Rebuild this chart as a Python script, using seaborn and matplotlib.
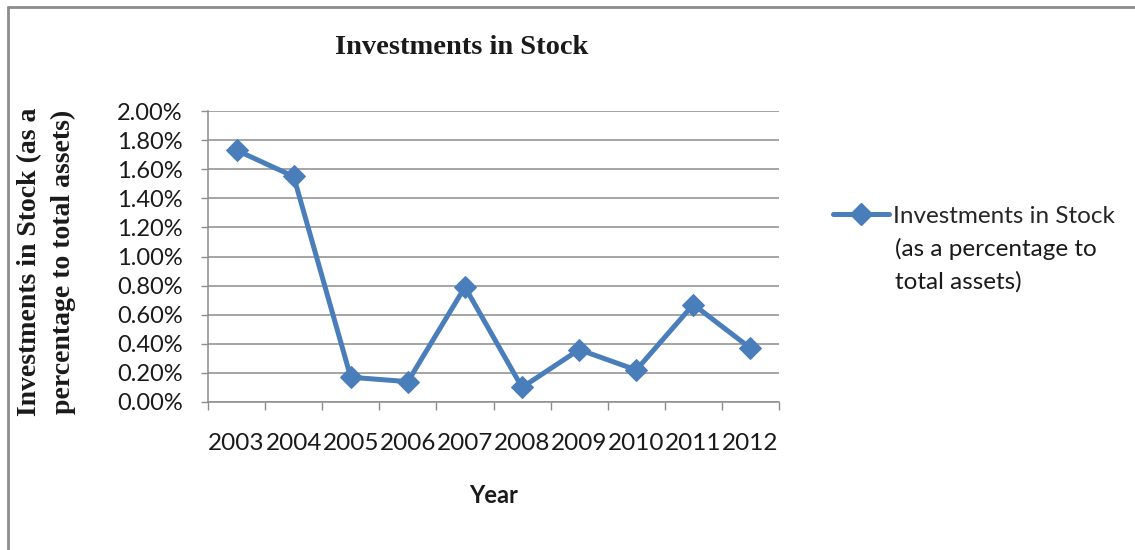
import numpy as np
import pandas as pd
import matplotlib
matplotlib.use("Agg")
import matplotlib.pyplot as plt
import seaborn as sns
from matplotlib.ticker import FuncFormatter, MultipleLocator, FixedLocator
from matplotlib.lines import Line2D

# Données
years = ["2003", "2004", "2005", "2006", "2007", "2008", "2009", "2010", "2011", "2012"]
stock_pct = [1.73, 1.55, 0.17, 0.14, 0.79, 0.10, 0.36, 0.22, 0.67, 0.37]
legend_lines = ["Investments in Stock", "(as a percentage to", "total assets)"]

df = pd.DataFrame({"Year": years, "Stock": stock_pct})

sns.set_theme(style="white")
plt.rcParams["font.family"] = ["Lato", "DejaVu Sans"]

blue = "#4A7EBB"
grey = "#8C8C8C"
txt = "#1a1a1a"

fig = plt.figure(figsize=(11.35, 5.5), dpi=100)
ax = fig.add_axes([208 / 1135, 1 - 402 / 550, 571 / 1135, 291 / 550])

sns.lineplot(data=df, x="Year", y="Stock", ax=ax, color=blue, linewidth=3.6,
             marker="D", markersize=11, markeredgecolor=blue, sort=False)

ax.set_ylim(0, 2.0)
ax.set_xlim(-0.5, len(years) - 0.5)
ax.yaxis.set_major_locator(MultipleLocator(0.2))
ax.yaxis.set_major_formatter(FuncFormatter(lambda v, p: f"{v:.2f}%"))
ax.grid(axis="y", color=grey, linewidth=1.1)
ax.grid(axis="x", visible=False)

# petits traits entre les catégories
ax.xaxis.set_minor_locator(FixedLocator(np.arange(-0.5, len(years), 1.0)))
ax.tick_params(axis="x", which="major", length=0, pad=22, labelsize=17.5, colors=txt)
ax.tick_params(axis="x", which="minor", length=6, width=1, color=grey, direction="out", bottom=True)
ax.tick_params(axis="y", which="major", length=5, width=1, color=grey, direction="out",
               left=True, labelsize=17, labelcolor=txt, pad=13)

for s in ["top", "right"]:
    ax.spines[s].set_visible(False)
for s in ["left", "bottom"]:
    ax.spines[s].set_color(grey)
    ax.spines[s].set_linewidth(1.1)

ax.set_xlabel("Year", fontsize=17, fontweight="bold", labelpad=22, color=txt)
ax.set_ylabel("")

fig.text(30 / 1135, 1 - 262 / 550, "Investments in Stock (as a", rotation=90,
         ha="center", va="center", fontsize=20, fontweight="bold",
         family="Liberation Serif", color=txt)
fig.text(63 / 1135, 1 - 262 / 550, "percentage to total assets)", rotation=90,
         ha="center", va="center", fontsize=20, fontweight="bold",
         family="Liberation Serif", color=txt)

fig.text(462 / 1135, 1 - 48 / 550, "Investments in Stock", ha="center", va="center",
         fontsize=20.5, fontweight="bold", family="Liberation Serif", color=txt)

# légende : symbole aligné sur la première ligne
handle = Line2D([], [], color=blue, linewidth=3.6, marker="D", markersize=11)
fig.legend([handle], [legend_lines[0]], loc="center left",
           bbox_to_anchor=(833 / 1135, 1 - 216 / 550), frameon=False,
           fontsize=17.5, handlelength=2.3, handletextpad=0.15, borderpad=0,
           borderaxespad=0)
for i, line in enumerate(legend_lines[1:], start=1):
    fig.text(895 / 1135, 1 - (216 + 33 * i) / 550, line, ha="left", va="center",
             fontsize=17.5, color=txt)

# cadre de la zone du graphique
fig.add_artist(Line2D([8 / 1135, 8 / 1135], [0, 1 - 7 / 550], transform=fig.transFigure,
                      color=grey, linewidth=2))
fig.add_artist(Line2D([8 / 1135, 1], [1 - 7 / 550, 1 - 7 / 550], transform=fig.transFigure,
                      color=grey, linewidth=2))

fig.savefig("out.png", dpi=100)
